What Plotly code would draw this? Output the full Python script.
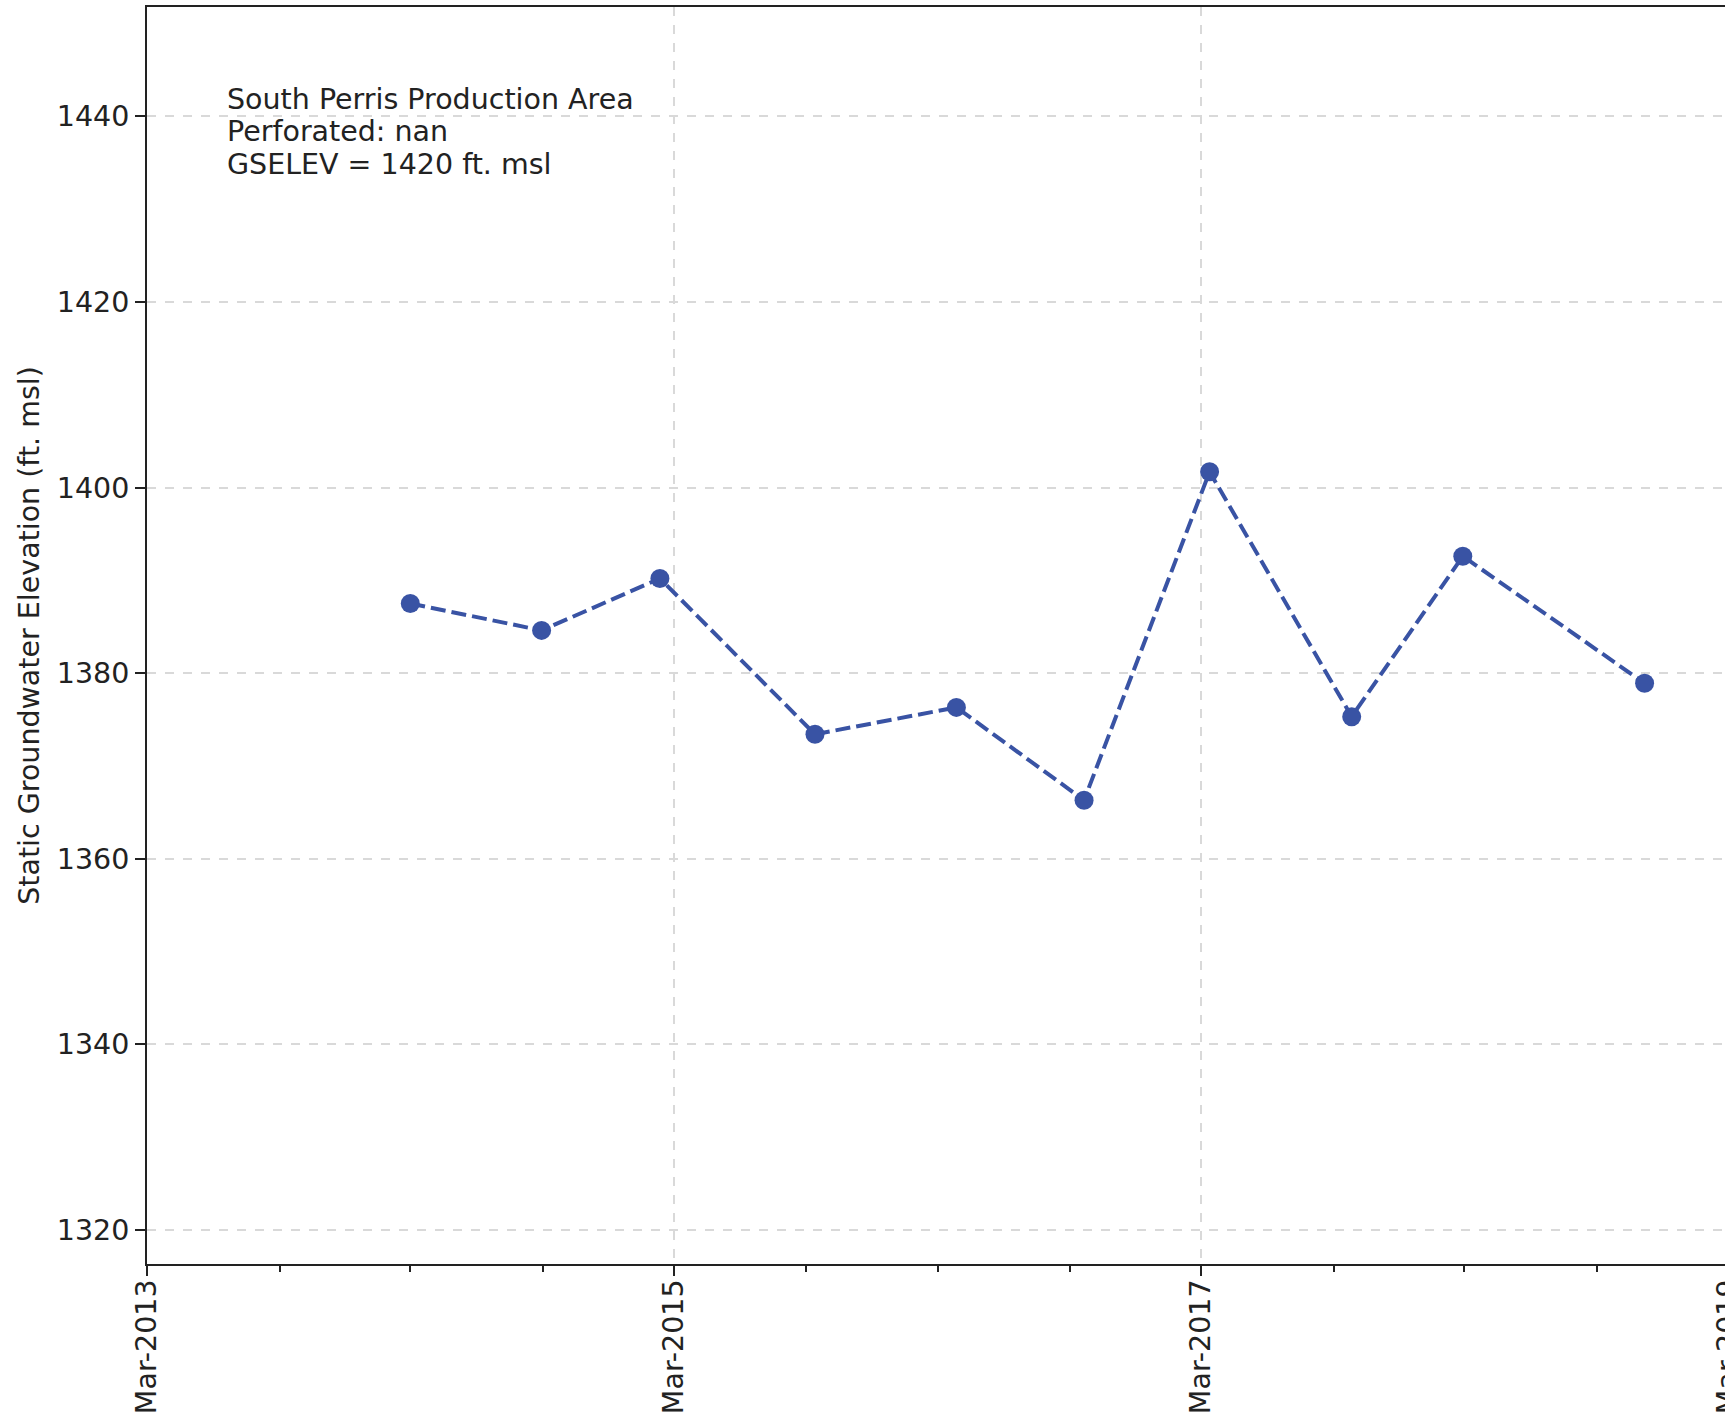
import plotly.graph_objects as go

# sampling dates and static groundwater elevations (ft. msl)
dates = ['2014-03-01', '2014-08-30', '2015-02-10', '2015-09-13', '2016-03-27',
         '2016-09-20', '2017-03-13', '2017-09-26', '2018-02-27', '2018-11-06']
elev = [1387.5, 1384.6, 1390.2, 1373.4, 1376.3, 1366.3, 1401.7, 1375.3, 1392.6, 1378.9]

info_lines = ['South Perris Production Area', 'Perforated: nan', 'GSELEV = 1420 ft. msl']
y_ticks = [1320, 1340, 1360, 1380, 1400, 1420, 1440]

# figure is a bit wider than the window: the right part of the axes is cropped like in the original
W, H = 1760, 1421
L, T, R, B = 147, 7, 0, 157
FONT = 'DejaVu Sans'
FS = 28.5
TXT = '#222222'
BLUE = '#3953a4'

fig = go.Figure()
fig.add_trace(go.Scatter(
    x=dates, y=elev, mode='lines+markers',
    line=dict(color=BLUE, width=4, dash='15px,6px'),
    marker=dict(color=BLUE, size=19),
    showlegend=False,
))

pw = W - L - R
ph = H - T - B
for i, txt in enumerate(info_lines):
    py = 100 + 32 * i
    fig.add_annotation(
        text=txt, xref='paper', yref='paper',
        x=(225 - L) / pw, y=(H - B - py) / ph,
        xanchor='left', yanchor='middle', showarrow=False,
        font=dict(family=FONT, size=FS, color=TXT),
    )

fig.update_xaxes(
    type='date', range=['2013-03-01', '2019-04-15'],
    tick0='2013-03-01', dtick='M24', tickformat='%b-%Y', tickangle=-90,
    ticks='outside', ticklen=10, tickwidth=1.5, tickcolor='#222',
    showline=True, linecolor='#222', linewidth=2, mirror=True,
    showgrid=True, gridcolor='#d9d9d9', griddash='dash', gridwidth=1.5,
    minor=dict(dtick='M6', tick0='2013-03-01', ticks='outside', ticklen=6,
               tickwidth=1.5, tickcolor='#222', showgrid=False),
    tickfont=dict(family=FONT, size=FS, color=TXT),
    ticklabelstandoff=-8, zeroline=False,
)
fig.update_yaxes(
    range=[1316.3, 1451.8], tickvals=y_ticks,
    ticks='outside', ticklen=10, tickwidth=1.5, tickcolor='#222',
    showline=True, linecolor='#222', linewidth=2,
    showgrid=True, gridcolor='#d9d9d9', griddash='dash', gridwidth=1.5,
    tickfont=dict(family=FONT, size=FS, color=TXT),
    title=dict(text='Static Groundwater Elevation (ft. msl)',
               font=dict(family=FONT, size=FS, color=TXT), standoff=9),
    zeroline=False,
)
fig.update_layout(
    width=W, height=H,
    margin=dict(l=L, t=T, r=R, b=B, autoexpand=False),
    plot_bgcolor='white', paper_bgcolor='white',
    font=dict(family=FONT, size=FS, color=TXT),
)

fig.write_html('out.html', config={'displayModeBar': False},
               post_script="document.body.style.margin='0';document.body.style.overflow='hidden';")
